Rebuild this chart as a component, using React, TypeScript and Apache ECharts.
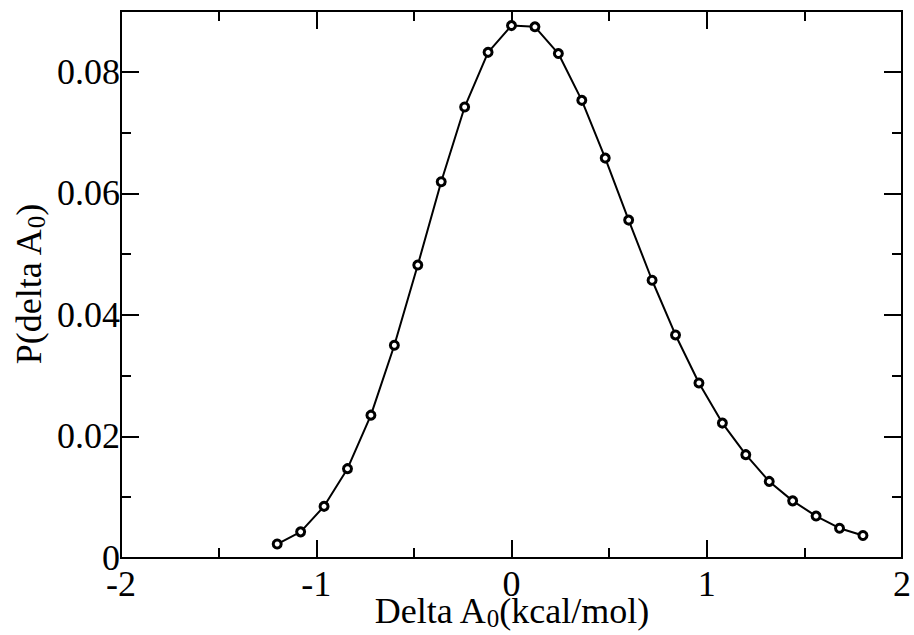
import React, { useEffect, useRef } from "react";
import * as echarts from "echarts";

const deltaA: number[] = [-1.2, -1.08, -0.96, -0.84, -0.72, -0.6, -0.48, -0.36, -0.24, -0.12, 0, 0.12, 0.24, 0.36, 0.48, 0.6, 0.72, 0.84, 0.96, 1.08, 1.2, 1.32, 1.44, 1.56, 1.68, 1.8];
const prob: number[] = [0.0023, 0.0043, 0.0085, 0.0147, 0.0235, 0.035, 0.0482, 0.0619, 0.0742, 0.0832, 0.0876, 0.0874, 0.083, 0.0753, 0.0658, 0.0556, 0.0457, 0.0367, 0.0288, 0.0222, 0.017, 0.0126, 0.0094, 0.0069, 0.0049, 0.0037];

const X_MIN = -2, X_MAX = 2, X_MAJOR = 1, X_MINOR = 0.5;
const Y_MIN = 0, Y_MAX = 0.09, Y_MAJOR = 0.02, Y_MINOR = 0.01;

const X_TITLE = "{a|Delta A}{s|0}{a|(kcal/mol)}";
const Y_TITLE = "{a|P(delta A}{s|0}{a|)}";

const FONT = "Liberation Serif";

export default function App() {
  const ref = useRef<HTMLDivElement>(null);
  useEffect(() => {
    if (!ref.current) return;
    const chart = echarts.init(ref.current, null, { renderer: "svg" });
    const line = { lineStyle: { color: "#000", width: 2 } };
    const rich = {
      a: { fontFamily: FONT, fontSize: 36, color: "#000" },
      s: { fontFamily: FONT, fontSize: 25, color: "#000", padding: [15, 0, 0, 0] },
    };
    const base = (pos: string, interval: number, len: number, labels: boolean, extra: any = {}) => ({
      type: "value",
      position: pos,
      min: pos === "bottom" || pos === "top" ? X_MIN : Y_MIN,
      max: pos === "bottom" || pos === "top" ? X_MAX : Y_MAX,
      interval,
      axisLine: { show: true, onZero: false, ...line },
      axisTick: { show: true, inside: true, length: len, lineStyle: { color: "#000", width: 2 } },
      axisLabel: labels
        ? { show: true, color: "#000", fontFamily: FONT, fontSize: 36, showMaxLabel: pos === "bottom", ...(extra.label || {}) }
        : { show: false },
      splitLine: { show: false },
      ...(extra.axis || {}),
    });
    const nameStyle = { color: "#000", fontFamily: FONT, fontSize: 36, rich };
    const option: any = {
      animation: false,
      backgroundColor: "#fff",
      grid: { left: 121, right: 12, top: 11, bottom: 77, containLabel: false, outerBoundsMode: "none" },
      xAxis: [
        base("bottom", X_MAJOR, 18, true, {
          label: { margin: 8 },
          axis: { name: X_TITLE, nameLocation: "middle", nameGap: 33, nameMoveOverlap: false, nameTextStyle: nameStyle },
        }),
        base("bottom", X_MINOR, 10, false),
        base("top", X_MAJOR, 18, false),
        base("top", X_MINOR, 10, false),
      ],
      yAxis: [
        base("left", Y_MAJOR, 18, true, {
          label: { margin: 1, padding: [6, 0, 0, 0] },
          axis: { name: Y_TITLE, nameLocation: "middle", nameGap: 72, nameRotate: 90, nameMoveOverlap: false, nameTextStyle: nameStyle },
        }),
        base("left", Y_MINOR, 10, false),
        base("right", Y_MAJOR, 18, false),
        base("right", Y_MINOR, 10, false),
      ],
      series: [
        {
          type: "line",
          xAxisIndex: 0,
          yAxisIndex: 0,
          data: deltaA.map((x, i) => [x, prob[i]]),
          symbol: "circle",
          symbolSize: 8,
          showAllSymbol: true,
          lineStyle: { color: "#000", width: 2 },
          itemStyle: { color: "#fff", borderColor: "#000", borderWidth: 3 },
        },
      ],
    };
    chart.setOption(option);
    return () => chart.dispose();
  }, []);
  return <div ref={ref} style={{ position: "fixed", left: 0, top: 0, width: 914, height: 635 }} />;
}
